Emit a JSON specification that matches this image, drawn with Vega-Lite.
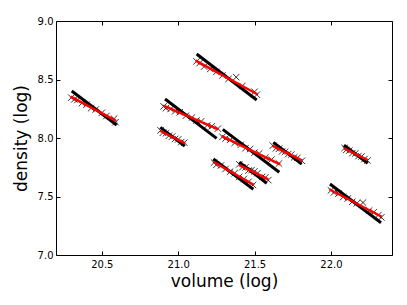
{
  "$schema": "https://vega.github.io/schema/vega-lite/v6.json",
  "width": 336,
  "height": 234,
  "autosize": {"type": "none"},
  "padding": {"left": 56, "top": 21, "right": 15, "bottom": 50},
  "config": {
    "view": {"stroke": "#000000", "strokeWidth": 1},
    "font": "DejaVu Sans",
    "axis": {"grid": false, "domain": false, "tickColor": "#000", "labelColor": "#000", "titleColor": "#000", "labelFont": "DejaVu Sans", "titleFont": "DejaVu Sans", "titleFontWeight": "normal"}
  },
  "datasets": {
    "pts": [
      {"c": "A", "x": 20.30, "y": 8.345}, {"c": "A", "x": 20.32, "y": 8.330}, {"c": "A", "x": 20.34, "y": 8.325}, {"c": "A", "x": 20.37, "y": 8.298}, {"c": "A", "x": 20.40, "y": 8.285}, {"c": "A", "x": 20.43, "y": 8.255}, {"c": "A", "x": 20.46, "y": 8.243}, {"c": "A", "x": 20.50, "y": 8.215}, {"c": "A", "x": 20.53, "y": 8.188}, {"c": "A", "x": 20.58, "y": 8.165}, {"c": "A", "x": 20.59, "y": 8.135},
      {"c": "B", "x": 20.885, "y": 8.065}, {"c": "B", "x": 20.90, "y": 8.045}, {"c": "B", "x": 20.92, "y": 8.040}, {"c": "B", "x": 20.94, "y": 8.020}, {"c": "B", "x": 20.96, "y": 8.012}, {"c": "B", "x": 20.98, "y": 7.992}, {"c": "B", "x": 21.00, "y": 7.988}, {"c": "B", "x": 21.02, "y": 7.965}, {"c": "B", "x": 21.04, "y": 7.960},
      {"c": "C", "x": 20.905, "y": 8.270}, {"c": "C", "x": 20.92, "y": 8.255}, {"c": "C", "x": 20.95, "y": 8.248}, {"c": "C", "x": 20.98, "y": 8.228}, {"c": "C", "x": 21.01, "y": 8.220}, {"c": "C", "x": 21.05, "y": 8.190}, {"c": "C", "x": 21.09, "y": 8.175}, {"c": "C", "x": 21.12, "y": 8.150}, {"c": "C", "x": 21.15, "y": 8.142}, {"c": "C", "x": 21.19, "y": 8.108}, {"c": "C", "x": 21.22, "y": 8.100}, {"c": "C", "x": 21.26, "y": 8.080},
      {"c": "D", "x": 21.12, "y": 8.655}, {"c": "D", "x": 21.14, "y": 8.640}, {"c": "D", "x": 21.17, "y": 8.610}, {"c": "D", "x": 21.21, "y": 8.590}, {"c": "D", "x": 21.25, "y": 8.565}, {"c": "D", "x": 21.29, "y": 8.535}, {"c": "D", "x": 21.33, "y": 8.505}, {"c": "D", "x": 21.38, "y": 8.520}, {"c": "D", "x": 21.42, "y": 8.445}, {"c": "D", "x": 21.50, "y": 8.395}, {"c": "D", "x": 21.515, "y": 8.370},
      {"c": "E", "x": 21.29, "y": 8.010}, {"c": "E", "x": 21.31, "y": 7.995}, {"c": "E", "x": 21.34, "y": 7.985}, {"c": "E", "x": 21.37, "y": 7.958}, {"c": "E", "x": 21.41, "y": 7.942}, {"c": "E", "x": 21.44, "y": 7.912}, {"c": "E", "x": 21.47, "y": 7.905}, {"c": "E", "x": 21.50, "y": 7.875}, {"c": "E", "x": 21.53, "y": 7.868}, {"c": "E", "x": 21.57, "y": 7.832}, {"c": "E", "x": 21.61, "y": 7.815}, {"c": "E", "x": 21.66, "y": 7.782},
      {"c": "F", "x": 21.235, "y": 7.790}, {"c": "F", "x": 21.25, "y": 7.770}, {"c": "F", "x": 21.28, "y": 7.765}, {"c": "F", "x": 21.31, "y": 7.735}, {"c": "F", "x": 21.34, "y": 7.712}, {"c": "F", "x": 21.37, "y": 7.700}, {"c": "F", "x": 21.40, "y": 7.668}, {"c": "F", "x": 21.43, "y": 7.650}, {"c": "F", "x": 21.46, "y": 7.625}, {"c": "F", "x": 21.49, "y": 7.598},
      {"c": "G", "x": 21.40, "y": 7.775}, {"c": "G", "x": 21.42, "y": 7.750}, {"c": "G", "x": 21.44, "y": 7.748}, {"c": "G", "x": 21.46, "y": 7.722}, {"c": "G", "x": 21.48, "y": 7.725}, {"c": "G", "x": 21.50, "y": 7.715}, {"c": "G", "x": 21.52, "y": 7.700}, {"c": "G", "x": 21.55, "y": 7.668}, {"c": "G", "x": 21.57, "y": 7.662}, {"c": "G", "x": 21.59, "y": 7.640},
      {"c": "H", "x": 21.62, "y": 7.935}, {"c": "H", "x": 21.64, "y": 7.912}, {"c": "H", "x": 21.66, "y": 7.908}, {"c": "H", "x": 21.68, "y": 7.885}, {"c": "H", "x": 21.70, "y": 7.882}, {"c": "H", "x": 21.72, "y": 7.862}, {"c": "H", "x": 21.74, "y": 7.858}, {"c": "H", "x": 21.76, "y": 7.835}, {"c": "H", "x": 21.78, "y": 7.830}, {"c": "H", "x": 21.81, "y": 7.805},
      {"c": "I", "x": 22.09, "y": 7.915}, {"c": "I", "x": 22.10, "y": 7.898}, {"c": "I", "x": 22.12, "y": 7.892}, {"c": "I", "x": 22.14, "y": 7.870}, {"c": "I", "x": 22.16, "y": 7.868}, {"c": "I", "x": 22.18, "y": 7.845}, {"c": "I", "x": 22.20, "y": 7.842}, {"c": "I", "x": 22.22, "y": 7.820}, {"c": "I", "x": 22.24, "y": 7.808},
      {"c": "J", "x": 22.00, "y": 7.552}, {"c": "J", "x": 22.02, "y": 7.535}, {"c": "J", "x": 22.05, "y": 7.525}, {"c": "J", "x": 22.08, "y": 7.495}, {"c": "J", "x": 22.11, "y": 7.483}, {"c": "J", "x": 22.14, "y": 7.455}, {"c": "J", "x": 22.17, "y": 7.442}, {"c": "J", "x": 22.21, "y": 7.448}, {"c": "J", "x": 22.25, "y": 7.380}, {"c": "J", "x": 22.28, "y": 7.365}, {"c": "J", "x": 22.31, "y": 7.340}, {"c": "J", "x": 22.33, "y": 7.322}
    ],
    "black": [
      {"c": "A", "x": 20.303, "y": 8.402}, {"c": "A", "x": 20.597, "y": 8.111},
      {"c": "B", "x": 20.883, "y": 8.091}, {"c": "B", "x": 21.043, "y": 7.931},
      {"c": "C", "x": 20.914, "y": 8.333}, {"c": "C", "x": 21.252, "y": 7.997},
      {"c": "D", "x": 21.121, "y": 8.718}, {"c": "D", "x": 21.514, "y": 8.325},
      {"c": "E", "x": 21.292, "y": 8.074}, {"c": "E", "x": 21.662, "y": 7.707},
      {"c": "F", "x": 21.230, "y": 7.821}, {"c": "F", "x": 21.492, "y": 7.562},
      {"c": "G", "x": 21.400, "y": 7.7935}, {"c": "G", "x": 21.580, "y": 7.6135},
      {"c": "H", "x": 21.623, "y": 7.9625}, {"c": "H", "x": 21.809, "y": 7.7765},
      {"c": "I", "x": 22.086, "y": 7.9395}, {"c": "I", "x": 22.241, "y": 7.7845},
      {"c": "J", "x": 21.994, "y": 7.607}, {"c": "J", "x": 22.328, "y": 7.276}
    ],
    "red": [
      {"c": "A", "x": 20.296, "y": 8.353}, {"c": "A", "x": 20.591, "y": 8.148},
      {"c": "B", "x": 20.881, "y": 8.062}, {"c": "B", "x": 21.045, "y": 7.955},
      {"c": "C", "x": 20.903, "y": 8.276}, {"c": "C", "x": 21.263, "y": 8.074},
      {"c": "D", "x": 21.115, "y": 8.661}, {"c": "D", "x": 21.518, "y": 8.374},
      {"c": "E", "x": 21.285, "y": 8.017}, {"c": "E", "x": 21.667, "y": 7.775},
      {"c": "F", "x": 21.230, "y": 7.797}, {"c": "F", "x": 21.497, "y": 7.598},
      {"c": "G", "x": 21.400, "y": 7.769}, {"c": "G", "x": 21.590, "y": 7.647},
      {"c": "H", "x": 21.619, "y": 7.932}, {"c": "H", "x": 21.813, "y": 7.806},
      {"c": "I", "x": 22.086, "y": 7.912}, {"c": "I", "x": 22.241, "y": 7.812},
      {"c": "J", "x": 21.990, "y": 7.562}, {"c": "J", "x": 22.333, "y": 7.327}
    ]
  },
  "resolve": {"axis": {"x": "independent", "y": "independent"}},
  "layer": [
    {
      "data": {"name": "pts"},
      "mark": {"type": "point", "shape": "M-1,-1L1,1M-1,1L1,-1", "filled": false, "stroke": "#000", "strokeWidth": 0.8, "size": 42, "opacity": 1},
      "encoding": {
        "x": {"field": "x", "type": "quantitative", "scale": {"domain": [20.2, 22.4], "nice": false, "zero": false},
          "axis": {"orient": "bottom", "values": [20.5, 21.0, 21.5, 22.0], "format": ".1f", "tickSize": -4, "labelPadding": 8, "labelFontSize": 10, "title": "volume (log)", "titleFontSize": 17, "titlePadding": 4}},
        "y": {"field": "y", "type": "quantitative", "scale": {"domain": [7, 9], "nice": false, "zero": false},
          "axis": {"orient": "left", "values": [7.0, 7.5, 8.0, 8.5, 9.0], "format": ".1f", "tickSize": -4, "labelPadding": 7, "labelFontSize": 10, "title": "density (log)", "titleFontSize": 17, "titlePadding": 7}}
      }
    },
    {
      "data": {"name": "black"},
      "mark": {"type": "line", "color": "#000", "strokeWidth": 3},
      "encoding": {
        "detail": {"field": "c"},
        "x": {"field": "x", "type": "quantitative", "axis": {"orient": "top", "values": [20.5, 21.0, 21.5, 22.0], "labels": false, "tickSize": -4, "title": null}},
        "y": {"field": "y", "type": "quantitative", "axis": {"orient": "right", "values": [7.0, 7.5, 8.0, 8.5, 9.0], "labels": false, "tickSize": -4, "title": null}}
      }
    },
    {
      "data": {"name": "red"},
      "mark": {"type": "line", "color": "#ff0000", "strokeWidth": 2.5},
      "encoding": {
        "detail": {"field": "c"},
        "x": {"field": "x", "type": "quantitative", "axis": null},
        "y": {"field": "y", "type": "quantitative", "axis": null}
      }
    }
  ]
}
